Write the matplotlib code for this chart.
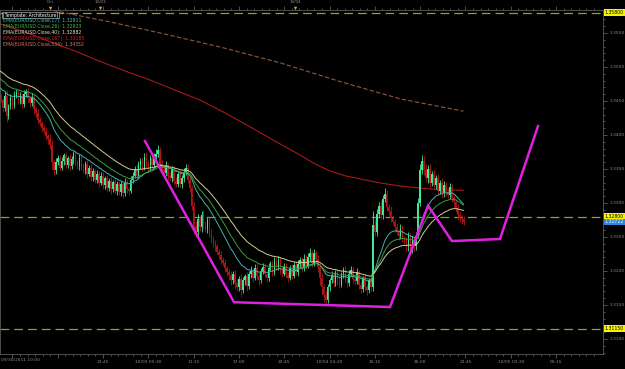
import matplotlib.pyplot as plt
import matplotlib.transforms as mtransforms
import numpy as np

# EUR/USD 15 minute candles, prices in pips above 1.3000
first_open = 455
closes = [
    452, 440, 458, 428, 442, 455, 444, 458, 462, 450,
    458, 446, 460, 465, 454, 447, 455, 438, 432, 422,
    418, 410, 406, 398, 394, 385, 360, 348, 360, 366,
    352, 362, 370, 356, 366, 354, 364, 372, 360, 354,
    366, 354, 348, 358, 343, 352, 338, 347, 334, 343,
    330, 340, 326, 336, 322, 333, 320, 331, 318, 328,
    316, 328, 314, 330, 320, 318, 334, 340, 350, 340,
    356, 362, 352, 368, 358, 352, 366, 356, 368, 372,
    378, 358, 350, 344, 356, 340, 336, 350, 333, 328,
    342, 328, 336, 345, 352, 334, 322, 296, 266, 258,
    276, 264, 282, 268, 262, 275, 255, 248, 240, 236,
    228, 224, 216, 212, 205, 198, 194, 186, 196, 182,
    176, 188, 172, 186, 192, 178, 195, 200, 190, 205,
    192, 186, 200, 206, 195, 190, 204, 210, 198, 215,
    206, 216, 202, 196, 206, 194, 190, 204, 193, 209,
    198, 210, 216, 204, 218, 208, 220, 226, 212, 226,
    218, 206, 190, 176, 164, 158, 176, 186, 194, 182,
    198, 186, 180, 195, 201, 186, 183, 196, 202, 188,
    185, 198, 180, 174, 189, 176, 172, 186, 176, 268,
    258, 284, 296, 282, 306, 313, 294, 288, 278, 272,
    264, 258, 252, 262, 248, 244, 236, 252, 232, 246,
    236, 252, 300, 348, 362, 348, 336, 350, 330, 342,
    326, 336, 318, 330, 314, 327, 316, 312, 324, 308,
    302, 292, 282, 278, 276, 272,
]
wick_up = [
    5, 3, 6, 8, 4, 5, 3, 6, 5, 4,
    5, 4, 6, 3, 5, 4, 7, 5, 3, 6,
    5, 3, 5, 6, 4, 8, 7, 5, 6, 4,
    5, 6, 4, 5, 3, 6, 5, 4, 5, 3,
    6, 4, 5, 3, 5, 4, 6, 5, 3, 5,
    4, 5, 6, 3, 5, 4, 5, 3, 6, 5,
    4, 5, 3, 6, 5, 4, 5, 6, 4, 7,
    5, 4, 6, 5, 7, 5, 4, 6, 5, 8,
    7, 5, 6, 4, 5, 3, 6, 5, 4, 5,
    4, 6, 5, 7, 5, 6, 4, 5, 6, 7,
    8, 5, 6, 7, 5, 4, 5, 6, 4, 5,
    4, 5, 6, 4, 5, 3, 5, 6, 4, 5,
    6, 4, 7, 5, 4, 6, 5, 7, 4, 5,
    6, 5, 4, 6, 5, 4, 7, 5, 6, 5,
    4, 6, 5, 4, 5, 6, 4, 5, 6, 4,
    5, 6, 4, 5, 7, 5, 6, 8, 5, 6,
    4, 5, 6, 7, 5, 6, 5, 4, 6, 5,
    4, 5, 6, 4, 5, 7, 4, 5, 6, 4,
    5, 6, 4, 5, 4, 6, 5, 4, 5, 20,
    9, 7, 6, 8, 5, 9, 6, 5, 7, 4,
    5, 6, 4, 7, 5, 4, 6, 5, 4, 5,
    6, 5, 7, 9, 8, 7, 9, 6, 8, 5,
    6, 5, 7, 4, 6, 5, 4, 6, 5, 4,
    5, 4, 6, 5, 4, 5,
]
wick_dn = [
    4, 6, 5, 9, 5, 4, 6, 5, 4, 5,
    4, 6, 5, 4, 5, 6, 4, 7, 5, 6,
    5, 6, 4, 5, 7, 6, 10, 7, 5, 4,
    5, 4, 6, 5, 4, 5, 4, 6, 5, 4,
    5, 6, 4, 5, 6, 4, 5, 6, 4, 5,
    6, 4, 5, 6, 4, 5, 7, 4, 5, 6,
    5, 6, 7, 4, 5, 6, 4, 5, 4, 5,
    4, 6, 5, 4, 5, 6, 4, 5, 4, 5,
    4, 6, 5, 4, 5, 6, 4, 5, 6, 4,
    5, 4, 6, 5, 4, 5, 6, 7, 12, 8,
    6, 5, 7, 5, 4, 6, 5, 7, 5, 6,
    5, 7, 6, 5, 6, 5, 7, 6, 5, 8,
    6, 5, 10, 5, 6, 7, 4, 5, 6, 4,
    5, 6, 4, 5, 4, 6, 5, 4, 5, 4,
    5, 4, 6, 5, 4, 5, 6, 4, 5, 4,
    4, 5, 4, 6, 4, 5, 4, 5, 6, 4,
    5, 8, 10, 12, 9, 7, 5, 6, 4, 5,
    4, 6, 5, 4, 5, 4, 6, 5, 4, 5,
    5, 4, 7, 6, 5, 6, 7, 5, 6, 5,
    7, 6, 5, 6, 5, 4, 6, 5, 6, 5,
    6, 5, 7, 5, 6, 5, 7, 6, 7, 5,
    6, 5, 4, 5, 6, 7, 5, 6, 7, 5,
    6, 5, 7, 5, 6, 5, 6, 5, 6, 7,
    8, 6, 7, 6, 7, 5,
]

# short EMAs: period and value just before the first bar (pips)
ema_periods = [17, 26, 40]
ema_seeds = [471, 485, 496]
# long EMAs (bar index, pips)
ema167_bars = [0, 12.4, 25.1, 37.8, 48.9, 63.2, 75.8, 88.5, 101.2, 113.9, 126.6,
               139.3, 152, 159.6, 167.2, 174.8, 182.4, 192.6, 202.7, 218, 235]
ema167_pips = [563, 551.5, 537, 523.5, 510, 494, 481, 466, 451.5, 432.5, 412,
               391, 370.5, 357.5, 347, 340, 335.5, 329.5, 325, 320.5, 318.5]
ema534_bars = [20, 56, 81, 112, 142, 173, 203, 235]
ema534_pips = [587, 566, 550, 529, 506, 478, 453, 435]

legend_lines = ["EMA(EUR/USD.Close,17): 1.32911", "EMA(EUR/USD.Close,26): 1.32923",
                "EMA(EUR/USD.Close,40): 1.32882", "EMA(EUR/USD.Close,167): 1.33185",
                "EMA(EUR/USD.Close,534): 1.34352"]

# hand-drawn pattern (bar index, price)
pattern_bars = [73.3, 118.5, 197.7, 217.0, 229.1, 253.5, 272.8]
pattern_prices = [1.3391, 1.3154, 1.3147, 1.3296, 1.3244, 1.3247, 1.3413]

levels = [1.3580, 1.3280, 1.3115]
last_price = 1.32722

x_tick_bars = [6 + 23 * k for k in range(13)]
x_tick_labels = ["", "", "23:45", "10/03 05:30", "11:15", "17:00", "22:45",
                 "10/04 04:30", "10:15", "16:00", "21:45", "10/05 03:30", "09:15"]
day_marks = [25.1, 50.5, 149.5]
day_labels = ["Oct", "10/03", "10/04"]

to_price = lambda p: 1.3 + np.asarray(p, dtype=float) / 10000

c = to_price(closes)
o = to_price([first_open] + closes[:-1])
hi = np.maximum(o, c) + np.array(wick_up) / 10000
lo = np.minimum(o, c) - np.array(wick_dn) / 10000
x = np.arange(len(c))

fig = plt.figure(figsize=(6.25, 3.69), dpi=100, facecolor='black')
ax = fig.add_axes([0.0, 15 / 369, 603 / 625, 344 / 369], facecolor='black')

up = c >= o
cols = np.where(up, '#3de89a', '#b01515')
ax.vlines(x, lo, hi, colors=cols, lw=0.6, zorder=3)
body = np.where(np.abs(c - o) < 0.00004, 0.00004, c - o)
ax.bar(x, body, bottom=o, width=0.8, color=cols, lw=0, zorder=3)

ema_colors = ['#3fb3ad', '#3c9c3c', '#cfcf90']
for period, seed, col in zip(ema_periods, ema_seeds, ema_colors):
    a = 2 / (period + 1)
    prev = 1.3 + seed / 10000
    vals = []
    for v in c:
        prev = prev + a * (v - prev)
        vals.append(prev)
    ax.plot(x, vals, color=col, lw=0.7, zorder=4)

ax.plot(ema167_bars, to_price(ema167_pips), color='#a81818', lw=0.8, zorder=2)
ax.plot(ema534_bars, to_price(ema534_pips), color='#94583a', lw=0.8,
        ls=(0, (4, 2)), zorder=2)

for lv in levels:
    ax.axhline(lv, color='#9c9c2a', lw=0.9, ls=(0, (7, 4)), zorder=1)

ax.plot(pattern_bars, pattern_prices, color='#e020e0', lw=1.8,
        solid_joinstyle='miter', zorder=6)

ax.set_xlim(-0.3, 305.8)
ax.set_ylim(1.30779, 1.35838)

grey = '#8c8c8c'
ax.yaxis.tick_right()
ax.set_yticks(np.arange(1.3100, 1.35501, 0.005))
ax.set_yticks(np.arange(1.3080, 1.3580, 0.001), minor=True)
ax.set_yticklabels(['%.4f' % v for v in np.arange(1.3100, 1.35501, 0.005)])
ax.set_xticks(x_tick_bars)
ax.set_xticklabels(x_tick_labels)
ax.set_xticks([t + 23 * j / 6 for t in x_tick_bars for j in range(1, 6)], minor=True)
ax.tick_params(which='both', colors='#707070', labelcolor=grey, labelsize=3.2,
               width=0.5, direction='out', pad=1.5, top=True)
ax.tick_params(which='major', length=3)
ax.tick_params(which='minor', length=1.5)
for s in ax.spines.values():
    s.set_color('#5a5a5a')
    s.set_linewidth(0.6)

ax.text(0.002, -0.012, "09/30/2011 10:00", transform=ax.transAxes, ha='left',
        va='top', fontsize=3.2, color=grey)

ytrans = mtransforms.blended_transform_factory(ax.transAxes, ax.transData)
for lv in levels:
    ax.text(1.003, lv, '%.5f' % lv, transform=ytrans, ha='left', va='center',
            fontsize=3.3, color='black', zorder=10, clip_on=False,
            bbox=dict(facecolor='#f5f500', edgecolor='none', pad=0.6))
ax.text(1.003, last_price, '%.5f' % last_price, transform=ytrans, ha='left',
        va='center', fontsize=3.3, color='#e8f0ff', zorder=11, clip_on=False,
        bbox=dict(facecolor='#2f86dc', edgecolor='none', pad=0.6))

xtrans = mtransforms.blended_transform_factory(ax.transData, ax.transAxes)
for b, lab in zip(day_marks, day_labels):
    ax.plot([b], [1.006], marker='v', ms=2.5, color='#d9a030', mec='none',
            transform=xtrans, clip_on=False, zorder=10)
    ax.text(b, 1.017, lab, transform=xtrans, ha='center', va='bottom',
            fontsize=3.0, color=grey, clip_on=False)

ax.text(0.005, 0.985, "[Template: Architecture]", transform=ax.transAxes,
        ha='left', va='center', fontsize=3.3, color='white', zorder=12,
        bbox=dict(facecolor='black', edgecolor='#d0d0d0', lw=0.4, pad=0.5))
legend_colors = ['#45c4c0', '#3fbf3f', '#e6e6b8', '#d42020', '#e07a5a']
for i, (txt, col) in enumerate(zip(legend_lines, legend_colors)):
    ax.text(0.005, 0.985 - 0.0168 * (i + 1), txt, transform=ax.transAxes,
            ha='left', va='center', fontsize=3.3, color=col, zorder=12)

fig.savefig('out.png', dpi=100, facecolor='black')
